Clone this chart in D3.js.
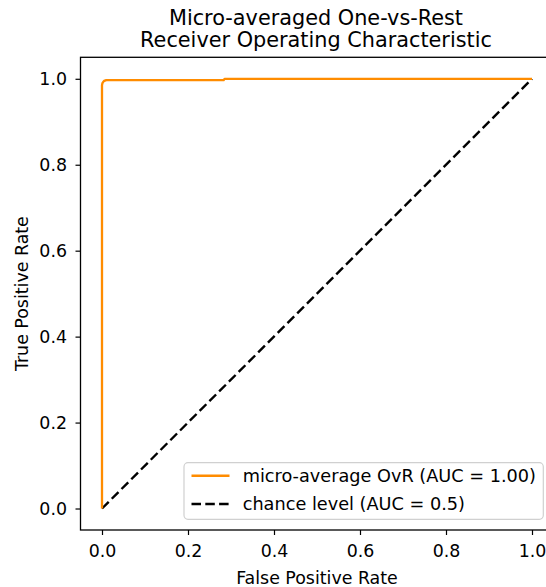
<!DOCTYPE html>
<html>
<head>
<meta charset="utf-8">
<script src="https://cdn.jsdelivr.net/npm/d3@7"></script>
<style>
  body { margin: 0; background: #fff; }
  text { font-family: "DejaVu Sans", sans-serif; fill: #000; }
</style>
</head>
<body>
<div id="chart-area"></div>
<script>
// micro-averaged ROC curve points
const fpr = [0, 0, 0.001, 0.003, 0.005, 0.01, 0.283, 0.285, 1];
const tpr = [0, 0.985, 0.99, 0.993, 0.995, 0.997, 0.997, 1.0, 1.0];
const chanceX = [0, 1];
const chanceY = [0, 1];
const ticks = [0, 0.2, 0.4, 0.6, 0.8, 1.0];
const legendLabels = ["micro-average OvR (AUC = 1.00)", "chance level (AUC = 0.5)"];

const width = 546, height = 587;
const mLeft = 80.5, mRight = 553.5, mTop = 57.3, mBottom = 530;
const fs = "17.4px";

const svg = d3.select("#chart-area").append("svg")
    .attr("width", width)
    .attr("height", height);

const x = d3.scaleLinear().domain([-0.05, 1.05]).range([mLeft, mRight]);
const y = d3.scaleLinear().domain([-0.05, 1.05]).range([mBottom, mTop]);

// title
svg.append("text")
    .attr("x", 316)
    .attr("y", 25)
    .attr("text-anchor", "middle")
    .style("font-size", "20.8px")
    .text("Micro-averaged One-vs-Rest");
svg.append("text")
    .attr("x", 316)
    .attr("y", 46.7)
    .attr("text-anchor", "middle")
    .style("font-size", "20.8px")
    .text("Receiver Operating Characteristic");

const plot = svg.append("g");

// chance line
const line = d3.line().x(d => x(d[0])).y(d => y(d[1]));
plot.append("path")
    .datum(chanceX.map((v, i) => [v, chanceY[i]]))
    .attr("d", line)
    .attr("fill", "none")
    .attr("stroke", "#000")
    .attr("stroke-width", 2.4)
    .attr("stroke-dasharray", "9.5,4.3");

// roc curve
plot.append("path")
    .datum(fpr.map((v, i) => [v, tpr[i]]))
    .attr("d", line)
    .attr("fill", "none")
    .attr("stroke", "darkorange")
    .attr("stroke-width", 2.3)
    .attr("stroke-linejoin", "round");

// axes
const xAxis = svg.append("g")
    .attr("transform", `translate(0,${mBottom})`)
    .call(d3.axisBottom(x).tickValues(ticks).tickFormat(d3.format(".1f")).tickSizeOuter(0).tickSize(5).tickPadding(9.5));
const yAxis = svg.append("g")
    .attr("transform", `translate(${mLeft},0)`)
    .call(d3.axisLeft(y).tickValues(ticks).tickFormat(d3.format(".1f")).tickSizeOuter(0).tickSize(5).tickPadding(8.5));
[xAxis, yAxis].forEach(a => {
    a.select(".domain").remove();
    a.selectAll("text").style("font-size", fs).style("font-family", "DejaVu Sans, sans-serif").attr("fill", "#000");
    a.selectAll("line").attr("stroke", "#000").attr("stroke-width", 1.2);
});

// frame
svg.append("rect")
    .attr("x", mLeft).attr("y", mTop)
    .attr("width", mRight - mLeft).attr("height", mBottom - mTop)
    .attr("fill", "none").attr("stroke", "#000").attr("stroke-width", 1.3);

// axis labels
svg.append("text")
    .attr("x", (mLeft + mRight) / 2)
    .attr("y", 584)
    .attr("text-anchor", "middle")
    .style("font-size", fs)
    .text("False Positive Rate");
svg.append("text")
    .attr("transform", `translate(28,${(mTop + mBottom) / 2}) rotate(-90)`)
    .attr("text-anchor", "middle")
    .style("font-size", fs)
    .text("True Positive Rate");

// legend
const lg = svg.append("g");
lg.append("rect")
    .attr("x", 184).attr("y", 462.7)
    .attr("width", 359.3).attr("height", 56.6)
    .attr("rx", 4)
    .attr("fill", "#fff").attr("fill-opacity", 0.8)
    .attr("stroke", "#d0d0d0").attr("stroke-width", 1.2);
const styles = [
    { stroke: "darkorange", dash: null },
    { stroke: "#000", dash: "9.5,4.3" }
];
legendLabels.forEach((lab, i) => {
    const yy = 475.7 + i * 28.3;
    lg.append("line")
        .attr("x1", 191.5).attr("x2", 229.5)
        .attr("y1", yy).attr("y2", yy)
        .attr("stroke", styles[i].stroke)
        .attr("stroke-width", 2.4)
        .attr("stroke-dasharray", styles[i].dash);
    lg.append("text")
        .attr("x", 242.7).attr("y", yy)
        .attr("dy", "0.35em")
        .style("font-size", "17.7px")
        .text(lab);
});
</script>
</body>
</html>
